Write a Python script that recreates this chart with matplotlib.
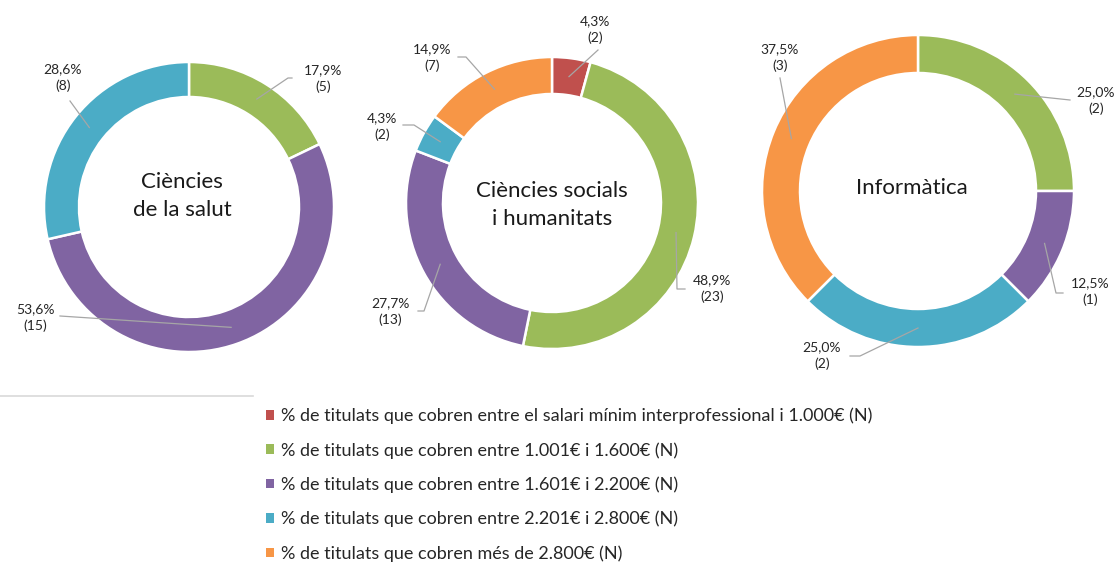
import matplotlib
matplotlib.use("Agg")
import matplotlib.pyplot as plt
import numpy as np
from matplotlib.patches import Patch

plt.rcParams['font.family'] = ['Lato', 'DejaVu Sans']

# series (legend order)
series = [
    "% de titulats que cobren entre el salari mínim interprofessional i 1.000€ (N)",
    "% de titulats que cobren entre 1.001€ i 1.600€ (N)",
    "% de titulats que cobren entre 1.601€ i 2.200€ (N)",
    "% de titulats que cobren entre 2.201€ i 2.800€ (N)",
    "% de titulats que cobren més de 2.800€ (N)",
]
colors = ["#C0504D", "#9BBB59", "#8064A2", "#4BACC6", "#F79646"]

groups = ["Ciències\nde la salut", "Ciències socials\ni humanitats", "Informàtica"]
counts_salut = [0, 5, 15, 8, 0]
counts_socials = [2, 23, 13, 2, 7]
counts_info = [0, 2, 1, 2, 3]
pct_salut = [0, 17.9, 53.6, 28.6, 0]
pct_socials = [4.3, 48.9, 27.7, 4.3, 14.9]
pct_info = [0, 25.0, 12.5, 25.0, 37.5]

W, H = 1120, 565
fig = plt.figure(figsize=(W / 100, H / 100), dpi=100)
ax = fig.add_axes([0, 0, 1, 1])

# layout in pixel coords (y from top)
donuts = [
    dict(counts=counts_salut, pct=pct_salut, cx=189, cy=207, r=145, w=35, tc=(182, 196),
         labels={1: ((323, 79), [(292, 78), (288, 78)]),
                 2: ((35, 318), [(60, 316)]),
                 3: ((63, 78), [(70, 101)])}),
    dict(counts=counts_socials, pct=pct_socials, cx=552, cy=203, r=146, w=37, tc=(552, 205),
         labels={0: ((595, 30), [(598, 50)]),
                 1: ((712, 289), [(685, 289), (677, 289)]),
                 2: ((390, 312), [(418, 311), (424, 311)]),
                 3: ((382, 127), [(403, 125), (414, 125)]),
                 4: ((432, 58), [(458, 57), (466, 57)])}),
    dict(counts=counts_info, pct=pct_info, cx=918, cy=191, r=156, w=38, tc=(912, 188),
         labels={1: ((1096, 101), [(1070, 100)]),
                 2: ((1090, 292), [(1063, 293), (1056, 293)]),
                 3: ((822, 356), [(850, 356), (860, 356)]),
                 4: ((780, 58), [(780, 78)])}),
]

for g, d in zip(groups, donuts):
    cx, cy = d['cx'], H - d['cy']
    vals = np.array(d['counts'], dtype=float)
    idx = [i for i in range(len(vals)) if vals[i] > 0]
    wedges, _ = ax.pie(vals[idx], colors=[colors[i] for i in idx], startangle=90,
                       counterclock=False, center=(cx, cy), radius=d['r'], frame=True,
                       wedgeprops=dict(width=d['w'], edgecolor='white', linewidth=1.8))
    ax.text(d['tc'][0], H - d['tc'][1], g, ha='center', va='center', fontsize=16,
            color='#1a1a1a', linespacing=1.5)
    # data labels with leader lines
    cum = np.cumsum(vals) / vals.sum()
    rm = d['r'] - d['w'] / 2
    for i in idx:
        frac = cum[i] - vals[i] / vals.sum() / 2
        ang = 2 * np.pi * frac
        px, py = cx + rm * np.sin(ang), cy + rm * np.cos(ang)
        (tx, ty), pts = d['labels'][i]
        xs = [p[0] for p in pts] + [px]
        ys = [H - p[1] for p in pts] + [py]
        ax.plot(xs, ys, color='#a6a6a6', lw=0.9, zorder=3)
        lab = f"{d['pct'][i]:.1f}%".replace('.', ',') + f"\n({d['counts'][i]})"
        ax.text(tx, H - ty, lab, ha='center', va='center', fontsize=10, color='#262626',
                linespacing=1.4)

# thin gray rule at left
ax.plot([0, 253], [H - 396, H - 396], color='#d9d9d9', lw=1.2)

handles = [Patch(facecolor=c, edgecolor='none') for c in colors]
ax.legend(handles, series, loc='upper left', bbox_to_anchor=(262 / W, 1 - 404 / H),
          bbox_transform=fig.transFigure, frameon=False, fontsize=13,
          handlelength=0.45, handleheight=0.45, handletextpad=0.4, labelspacing=0.99,
          labelcolor='#262626', borderpad=0.2, borderaxespad=0)

ax.set_xlim(0, W)
ax.set_ylim(0, H)
ax.set_aspect('auto')
ax.axis('off')
fig.savefig("out.png", dpi=100)
